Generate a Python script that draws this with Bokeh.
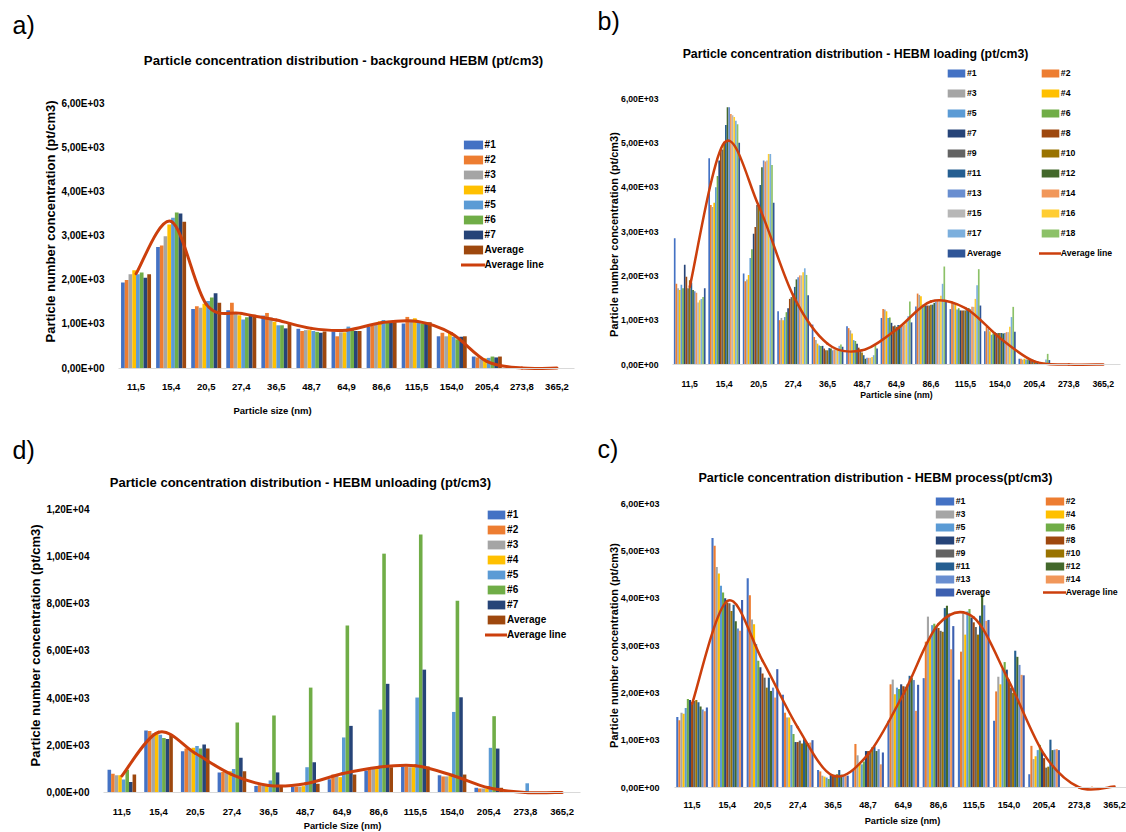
import math
from bokeh.plotting import figure
from bokeh.models import Range1d, FixedTicker, Legend, LegendItem, Label
from bokeh.layouts import column, row
from bokeh.embed import file_html
from bokeh.resources import INLINE

# ---------------- data ----------------
categories = ["11,5", "15,4", "20,5", "27,4", "36,5", "48,7", "64,9",
              "86,6", "115,5", "154,0", "205,4", "273,8", "365,2"]

ticks_6k = [0, 1000, 2000, 3000, 4000, 5000, 6000]
labels_6k = ["0,00E+00", "1,00E+03", "2,00E+03", "3,00E+03", "4,00E+03", "5,00E+03", "6,00E+03"]
ticks_12k = [0, 2000, 4000, 6000, 8000, 10000, 12000]
labels_12k = ["0,00E+00", "2,00E+03", "4,00E+03", "6,00E+03", "8,00E+03", "1,00E+04", "1,20E+04"]

# a) background HEBM
a_1 = [1940, 2750, 1340, 1310, 1190, 890, 830, 940, 1010, 720, 260, 0, 0]
a_2 = [2000, 2780, 1400, 1480, 1250, 840, 720, 960, 1160, 800, 240, 0, 0]
a_3 = [2130, 2990, 1370, 1240, 1150, 860, 810, 1010, 1100, 720, 200, 0, 0]
a_4 = [2220, 3260, 1460, 1200, 1050, 860, 810, 1060, 1130, 800, 220, 0, 0]
a_5 = [2130, 3410, 1520, 1100, 970, 840, 940, 1090, 1050, 710, 230, 0, 0]
a_6 = [2170, 3530, 1600, 1150, 970, 820, 870, 1070, 1010, 650, 260, 0, 0]
a_7 = [2050, 3510, 1700, 1200, 900, 800, 840, 1040, 1040, 710, 240, 0, 0]
a_avg = [2130, 3320, 1480, 1210, 1030, 830, 840, 1040, 1040, 720, 260, 0, 0]
a_line = [2140, 3330, 1450, 1240, 1090, 900, 860, 1030, 1060, 780, 150, 0, 0]

# b) HEBM loading
b_1 = [2850, 4650, 2050, 1200, 900, 860, 1050, 1310, 1250, 750, 130, 0, 0]
b_2 = [1820, 3600, 1880, 1000, 620, 820, 1250, 1600, 1420, 850, 130, 0, 0]
b_3 = [1720, 3550, 1920, 1050, 550, 770, 1240, 1570, 1390, 800, 110, 0, 0]
b_4 = [1680, 3650, 2020, 1000, 470, 700, 1200, 1540, 1350, 750, 130, 0, 0]
b_5 = [1800, 4000, 2400, 1070, 430, 550, 1050, 1350, 1240, 670, 110, 0, 0]
b_6 = [1720, 4250, 2600, 1180, 420, 530, 1060, 1330, 1270, 700, 110, 0, 0]
b_7 = [2250, 4600, 2950, 1270, 420, 470, 940, 1330, 1220, 730, 110, 0, 0]
b_8 = [1980, 4850, 3100, 1480, 360, 380, 860, 1330, 1220, 710, 110, 0, 0]
b_9 = [1720, 4850, 3600, 1520, 320, 320, 880, 1330, 1220, 710, 110, 0, 0]
b_10 = [1900, 5000, 3600, 1600, 320, 270, 850, 1350, 1220, 710, 100, 0, 0]
b_11 = [1850, 5400, 4050, 1750, 370, 210, 890, 1350, 1250, 710, 80, 0, 0]
b_12 = [1680, 5800, 4450, 1920, 360, 130, 880, 1390, 1270, 700, 70, 0, 0]
b_13 = [1650, 5800, 4600, 1970, 320, 150, 880, 1420, 1250, 710, 50, 0, 0]
b_14 = [1620, 5650, 4580, 2010, 340, 150, 880, 1450, 1300, 730, 50, 0, 0]
b_15 = [1400, 5620, 4600, 2010, 360, 150, 900, 1460, 1300, 730, 50, 0, 0]
b_16 = [1450, 5580, 4750, 2080, 360, 170, 950, 1550, 1480, 850, 50, 0, 0]
b_17 = [1480, 5500, 4750, 2170, 420, 210, 1090, 1820, 1790, 1070, 110, 0, 0]
b_18 = [1520, 5420, 4500, 2020, 450, 430, 1420, 2210, 2150, 1300, 240, 0, 0]
b_avg = [1720, 5000, 3650, 1560, 400, 360, 950, 1420, 1330, 740, 100, 0, 0]
b_line = [1750, 5000, 3580, 1560, 470, 320, 790, 1420, 1270, 600, 70, 0, 0]

# c) HEBM process
c_1 = [1490, 5270, 4420, 1960, 370, 370, 1410, 2310, 2280, 1410, 280, 0, 0]
c_2 = [1420, 5110, 4060, 1580, 340, 920, 2180, 3080, 2870, 2030, 880, 0, 0]
c_3 = [1580, 4660, 3550, 1480, 250, 680, 2280, 3610, 3680, 2340, 600, 0, 0]
c_4 = [1560, 4520, 3450, 1480, 230, 510, 1970, 3170, 3230, 2180, 660, 0, 0]
c_5 = [1680, 4260, 3030, 1320, 210, 490, 2110, 3430, 3720, 2500, 790, 0, 0]
c_6 = [1870, 4120, 2680, 1130, 180, 550, 2080, 3460, 3770, 2650, 900, 0, 0]
c_7 = [1850, 4000, 2540, 960, 270, 770, 2180, 3390, 3590, 2490, 770, 0, 0]
c_8 = [1800, 3910, 2410, 960, 250, 770, 2140, 3370, 3490, 2280, 620, 0, 0]
c_9 = [1830, 3890, 2320, 990, 270, 770, 2130, 3310, 3390, 2110, 420, 0, 0]
c_10 = [1850, 3730, 2110, 930, 280, 850, 2180, 3290, 3230, 2000, 440, 0, 0]
c_11 = [1800, 3860, 2320, 1020, 370, 870, 2360, 3790, 3630, 2890, 1010, 0, 0]
c_12 = [1710, 3510, 2040, 950, 270, 770, 2310, 3840, 4070, 2760, 790, 0, 0]
c_13 = [1650, 3360, 2110, 940, 250, 810, 2270, 3680, 3850, 2590, 800, 0, 0]
c_14 = [1610, 3310, 1900, 950, 240, 490, 1620, 2920, 3520, 2380, 810, 20, 0]
c_avg = [1690, 3960, 2500, 1000, 250, 740, 2170, 3410, 3540, 2370, 790, 0, 0]
c_line = [1770, 3940, 2680, 1270, 250, 700, 1970, 3450, 3590, 2250, 700, 0, 20]

# d) HEBM unloading
d_1 = [960, 2620, 1750, 850, 280, 250, 560, 930, 1100, 730, 200, 0, 0]
d_2 = [790, 2600, 1860, 870, 310, 250, 760, 990, 1100, 680, 170, 0, 0]
d_3 = [730, 2510, 1860, 870, 280, 250, 700, 1020, 1070, 680, 170, 0, 0]
d_4 = [730, 2480, 1890, 900, 280, 270, 650, 1030, 1070, 700, 170, 0, 0]
d_5 = [550, 2440, 1970, 990, 510, 1070, 2330, 3510, 4020, 3410, 1890, 390, 0]
d_6 = [960, 2310, 1860, 2960, 3260, 4440, 7070, 10110, 10920, 8120, 3230, 0, 0]
d_7 = [440, 2260, 2030, 1470, 850, 1280, 2820, 4600, 5200, 4030, 1860, 0, 0]
d_avg = [760, 2450, 1860, 900, 320, 370, 760, 1070, 1100, 760, 200, 0, 0]
d_line = [700, 2550, 1660, 760, 300, 370, 790, 1070, 1130, 730, 200, 0, 0]

# ---------------- styling ----------------
PALETTE = ["#4472C4", "#ED7D31", "#A5A5A5", "#FFC000", "#5B9BD5", "#70AD47",
           "#264478", "#9E480E", "#636363", "#997300", "#255E91", "#43682B",
           "#698ED0", "#F1975A", "#B7B7B7", "#FFCD33", "#7CAFDD", "#8CC168"]
LINE_COLOR = "#CC3F0C"
AXIS_COLOR = "#D9D9D9"
FONT = "Liberation Sans"


def smooth(vals):
    """Excel-like smoothed line: Catmull-Rom converted to cubic Bezier pieces."""
    n = len(vals)
    xs = [i + 0.5 for i in range(n)]
    d = dict(x0=[], y0=[], x1=[], y1=[], cx0=[], cy0=[], cx1=[], cy1=[])
    for i in range(n - 1):
        i0, i3 = max(i - 1, 0), min(i + 2, n - 1)
        d["x0"].append(xs[i]); d["y0"].append(vals[i])
        d["x1"].append(xs[i + 1]); d["y1"].append(vals[i + 1])
        d["cx0"].append(xs[i] + (xs[i + 1] - xs[i0]) / 6)
        d["cy0"].append(vals[i] + (vals[i + 1] - vals[i0]) / 6)
        d["cx1"].append(xs[i + 1] - (xs[i3] - xs[i]) / 6)
        d["cy1"].append(vals[i + 1] - (vals[i3] - vals[i]) / 6)
    return d


def make_panel(cfg):
    ox, oy, W, H = cfg["box"]
    x0px, cat_w = cfg["xpix"]                 # global pixel of x=0 and width of a category
    y0px, ytpx = cfg["ypix"]                  # global pixel of value 0 and of last tick
    ticks, tlabels = cfg["ticks"]
    per = (y0px - ytpx) / ticks[-1]
    x_start = -(x0px - ox) / cat_w
    x_end = (ox + W - x0px) / cat_w
    y_start = -(oy + H - y0px) / per
    y_end = (y0px - oy) / per
    p = figure(width=W, height=H, x_range=Range1d(x_start, x_end), y_range=Range1d(y_start, y_end),
               output_backend="svg", toolbar_location=None, tools="",
               min_border_left=0, min_border_right=0, min_border_top=0, min_border_bottom=0)
    p.outline_line_color = None
    p.xgrid.visible = False
    p.ygrid.visible = False
    p.background_fill_color = "white"
    p.border_fill_color = "white"

    xa = p.xaxis[0]
    xa.fixed_location = 0
    xa.bounds = (0, len(categories))
    xa.ticker = FixedTicker(ticks=[i + 0.5 for i in range(len(categories))])
    xa.major_label_overrides = {i + 0.5: c for i, c in enumerate(categories)}
    xa.axis_line_color = AXIS_COLOR
    xa.axis_line_width = 1
    xa.major_tick_line_color = None
    xa.minor_tick_line_color = None
    xa.major_label_standoff = cfg["xstand"]
    xa.major_label_text_font = FONT
    xa.major_label_text_font_size = cfg["xsize"]
    xa.major_label_text_font_style = "bold"
    xa.major_label_text_color = "#000000"

    ya = p.yaxis[0]
    ya.fixed_location = 0
    ya.bounds = (0, ticks[-1])
    ya.ticker = FixedTicker(ticks=ticks)
    ya.major_label_overrides = {t: l for t, l in zip(ticks, tlabels)}
    ya.axis_line_color = None
    ya.major_tick_line_color = None
    ya.minor_tick_line_color = None
    ya.major_label_standoff = cfg["ystand"]
    ya.major_label_text_font = FONT
    ya.major_label_text_font_size = cfg["ysize"]
    ya.major_label_text_font_style = "bold"
    ya.major_label_text_color = "#000000"

    series = cfg["series"]
    names = cfg["names"]
    colors = cfg["colors"]
    n = len(series)
    gw = cfg["group"]
    bw = gw / n
    rends = []
    for k, (vals, col) in enumerate(zip(series, colors)):
        xs = [i + 0.5 - gw / 2 + (k + 0.5) * bw for i in range(len(categories))]
        r = p.vbar(x=xs, top=vals, bottom=0, width=bw, fill_color=col, line_color=None)
        rends.append(r)
    lr = p.bezier(line_color=LINE_COLOR, line_width=cfg["lw"], line_cap="round",
                  **smooth(cfg["line"]))
    rends.append(lr)
    names = names + ["Average line"]

    # legend(s)
    lg = cfg["legend"]
    cols = lg["cols"]
    col_items = [[] for _ in cols]
    for idx, (nm, r) in enumerate(zip(names, rends)):
        col_items[idx % len(cols)].append(LegendItem(label=nm, renderers=[r]))
    for gx, items in zip(cols, col_items):
        ih, sp = lg["ih"], lg["sp"]
        m = len(items)
        height = m * ih + (m - 1) * sp
        top = lg["y1"] - ih / 2
        bottom = top + height
        leg = Legend(items=items, location=(gx - ox, oy + H - bottom), orientation="vertical",
                     padding=0, margin=0, spacing=sp, glyph_width=lg["gw"], glyph_height=ih,
                     label_height=ih, label_standoff=0, label_text_font=FONT,
                     label_text_font_size=lg["size"], label_text_font_style="bold",
                     label_text_color="#000000", background_fill_alpha=0, border_line_alpha=0)
        p.add_layout(leg)

    # texts
    def lab(text, X, Y, size, style="bold", align="center", angle=0.0):
        p.add_layout(Label(x=X - ox, y=oy + H - Y, x_units="screen", y_units="screen", text=text,
                           text_font=FONT, text_font_size=size, text_font_style=style,
                           text_align=align, text_baseline="middle", angle=angle,
                           text_color="#000000"))
    t = cfg["texts"]
    lab(t["letter"][0], t["letter"][1], t["letter"][2], "25px", "normal", "left")
    lab(*t["title"])
    lab(t["ytitle"][0], t["ytitle"][1], t["ytitle"][2], t["ytitle"][3], angle=math.pi / 2)
    lab(*t["xtitle"])
    return p


YT = "Particle number concentration (pt/cm3)"

cfg_a = dict(box=(0, 0, 590, 422), xpix=(118, 35.08), ypix=(367.5, 103.3),
             ticks=(ticks_6k, labels_6k), xstand=10, ystand=8, xsize="9.5px", ysize="10px",
             series=[a_1, a_2, a_3, a_4, a_5, a_6, a_7, a_avg],
             names=["#1", "#2", "#3", "#4", "#5", "#6", "#7", "Average"],
             colors=PALETTE[:8], group=0.855, line=a_line, lw=3,
             legend=dict(cols=[460.6], y1=144, ih=11, sp=4, gw=24, size="10px"),
             texts=dict(letter=("a)", 12, 24),
                        title=("Particle concentration distribution - background HEBM (pt/cm3)", 343, 60, "13.2px"),
                        ytitle=(YT, 50, 221, "13px"),
                        xtitle=("Particle size (nm)", 272, 410, "9.5px")))

b_names = ["#%d" % i for i in range(1, 19)] + ["Average"]
cfg_b = dict(box=(590, 0, 536, 422), xpix=(672, 34.46), ypix=(364, 98),
             ticks=(ticks_6k, labels_6k), xstand=10, ystand=8, xsize="8.7px", ysize="8.7px",
             series=[b_1, b_2, b_3, b_4, b_5, b_6, b_7, b_8, b_9, b_10, b_11, b_12, b_13, b_14,
                     b_15, b_16, b_17, b_18, b_avg],
             names=b_names, colors=PALETTE[:18] + ["#2F5597"], group=0.92, line=b_line, lw=2.5,
             legend=dict(cols=[945, 1038.8], y1=73.3, ih=10, sp=10, gw=22, size="8.7px"),
             texts=dict(letter=("b)", 597, 20),
                        title=("Particle concentration distribution - HEBM loading (pt/cm3)", 855, 53, "12.3px"),
                        ytitle=(YT, 613, 234, "11px"),
                        xtitle=("Particle sine (nm)", 896, 394, "8.7px")))

cfg_d = dict(box=(0, 422, 590, 410), xpix=(103, 36.69), ypix=(792, 508.5),
             ticks=(ticks_12k, labels_12k), xstand=10, ystand=8, xsize="9.5px", ysize="10px",
             series=[d_1, d_2, d_3, d_4, d_5, d_6, d_7, d_avg],
             names=["#1", "#2", "#3", "#4", "#5", "#6", "#7", "Average"],
             colors=PALETTE[:8], group=0.78, line=d_line, lw=3,
             legend=dict(cols=[485.1], y1=514.3, ih=11, sp=4, gw=22, size="10px"),
             texts=dict(letter=("d)", 12, 449),
                        title=("Particle concentration distribution - HEBM unloading (pt/cm3)", 300, 482, "13px"),
                        ytitle=(YT, 35, 645, "13px"),
                        xtitle=("Particle Size (nm)", 342, 825, "9.3px")))

c_names = ["#%d" % i for i in range(1, 15)] + ["Average"]
cfg_c = dict(box=(590, 422, 536, 410), xpix=(674, 35.2), ypix=(787, 503),
             ticks=(ticks_6k, labels_6k), xstand=8, ystand=9, xsize="9px", ysize="9px",
             series=[c_1, c_2, c_3, c_4, c_5, c_6, c_7, c_8, c_9, c_10, c_11, c_12, c_13, c_14, c_avg],
             names=c_names, colors=PALETTE[:14] + ["#3D60B0"], group=0.9, line=c_line, lw=2.5,
             legend=dict(cols=[932.7, 1042.7], y1=501.1, ih=10, sp=3, gw=23, size="8.8px"),
             texts=dict(letter=("c)", 597, 448),
                        title=("Particle concentration distribution - HEBM process(pt/cm3)", 875, 477, "12.6px"),
                        ytitle=(YT, 613, 645, "11px"),
                        xtitle=("Particle size (nm)", 902, 820, "9.2px")))

pa = make_panel(cfg_a)
pb = make_panel(cfg_b)
pd = make_panel(cfg_d)
pc = make_panel(cfg_c)

layout = column(row(pa, pb, spacing=0), row(pd, pc, spacing=0), spacing=0)
open("out.html", "w").write(file_html(layout, INLINE))
